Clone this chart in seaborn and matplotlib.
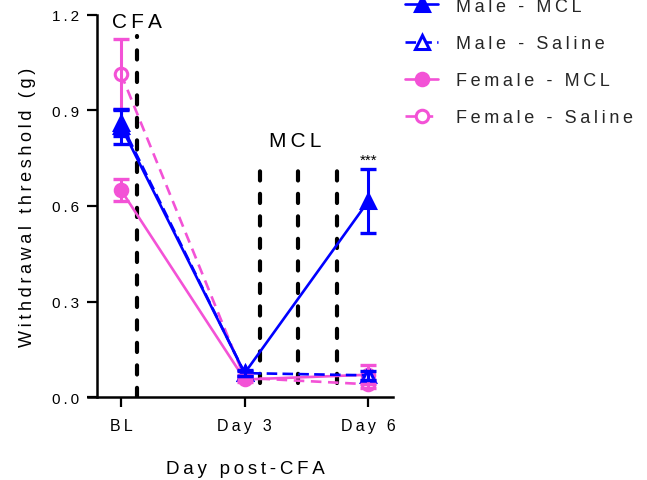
import numpy as np
import pandas as pd
import matplotlib
matplotlib.use("Agg")
import matplotlib.pyplot as plt
import seaborn as sns

# ---- data ----
days = ["BL", "Day 3", "Day 6"]
male_mcl = [0.85, 0.075, 0.615]
male_mcl_sem = [0.055, 0.01, 0.10]
male_sal = [0.86, 0.075, 0.068]
male_sal_sem = [0.04, 0.008, 0.015]
fem_mcl = [0.65, 0.055, 0.07]
fem_mcl_sem = [0.035, 0.008, 0.03]
fem_sal = [1.015, 0.06, 0.04]
fem_sal_sem = [0.11, 0.008, 0.012]
series_labels = ["Male - MCL", "Male - Saline", "Female - MCL", "Female - Saline"]
yticks = [0.0, 0.3, 0.6, 0.9, 1.2]
cfa_x = 0.13
mcl_x = [1.125, 1.433, 1.749]

BLUE = "#0000FF"
PINK = "#F352D6"
TS = "\u2009"


def sp(s):
    return TS.join(list(s))


sns.set_theme(style="ticks")
plt.rcParams["font.family"] = ["Liberation Sans", "DejaVu Sans"]

fig = plt.figure(figsize=(6.47, 4.81), dpi=100)
ax = fig.add_axes([88 / 647, 1 - 398 / 481, (393 - 88) / 647, 382 / 481])

xpos = np.arange(len(days))

# black dashed event lines
ax.vlines(cfa_x, 0, 1.135, colors="black", linewidth=3,
          linestyles=(0, (2.2, 3.2)), zorder=1, capstyle="round")
for xv in mcl_x:
    ax.vlines(xv, 0.045, 0.745, colors="black", linewidth=3,
              linestyles=(0, (2.2, 3.2)), zorder=1, capstyle="round")

specs = [
    (fem_sal, fem_sal_sem, PINK, "o", True, (4, 2.5), series_labels[3]),
    (fem_mcl, fem_mcl_sem, PINK, "o", False, None, series_labels[2]),
    (male_sal, male_sal_sem, BLUE, "^", True, (4, 2), series_labels[1]),
    (male_mcl, male_mcl_sem, BLUE, "^", False, None, series_labels[0]),
]
handles = {}
for vals, sem, col, mk, opn, dash, lab in specs:
    n0 = len(ax.lines)
    sns.lineplot(x=xpos, y=vals, ax=ax, color=col, marker=mk,
                 markersize=10 if mk == "^" else 9,
                 markerfacecolor="white" if opn else col,
                 markeredgecolor=col, markeredgewidth=2.2,
                 linewidth=1.9, label=lab, zorder=3)
    ln = ax.lines[n0]
    if dash is not None:
        ln.set_dashes(dash)
    handles[lab] = ln
    ax.errorbar(xpos, vals, yerr=sem, fmt="none", ecolor=col,
                elinewidth=2.2, capsize=5.5, capthick=2.4, zorder=4)

leg0 = ax.get_legend()
if leg0 is not None:
    leg0.remove()

fig.legend([handles[l] for l in series_labels], [sp(l) for l in series_labels],
           loc="center left", bbox_to_anchor=(405 / 647, 1 - 63 / 481),
           frameon=False, fontsize=13, handlelength=1.85, handletextpad=1.0,
           labelspacing=1.12, borderpad=0, borderaxespad=0)

ax.set_xlim(-0.267, 2.2)
ax.set_ylim(0, 1.2)
ax.set_xticks(xpos)
ax.set_xticklabels([sp(d) for d in days], fontsize=11.5)
ax.set_yticks(yticks)
ax.set_yticklabels([sp(f"{v:.1f}") for v in yticks], fontsize=11.5)
ax.tick_params(axis="both", direction="out", length=7, width=1.6, color="black",
               labelcolor="black", pad=6)
ax.tick_params(axis="x", pad=8)
for s in ["top", "right"]:
    ax.spines[s].set_visible(False)
for s in ["left", "bottom"]:
    ax.spines[s].set_linewidth(1.8)
    ax.spines[s].set_color("black")
ax.spines["left"].set_position(("axes", (97 - 88) / 305))
ax.spines["left"].set_bounds(0, 1.2)

ax.set_ylabel(sp("Withdrawal threshold (g)"), fontsize=13, color="black")
ax.yaxis.set_label_coords(-0.17, 0.5)
ax.set_xlabel(sp("Day post-CFA"), fontsize=13.5, color="black")
ax.xaxis.set_label_coords(0.515, -0.165)

ax.text(cfa_x, 1.18, sp("CFA"), ha="center", va="center", fontsize=15, color="black")
ax.text(1.405, 0.805, sp("MCL"), ha="center", va="center", fontsize=15, color="black")
ax.text(2, 0.745, "***", ha="center", va="center", fontsize=11, color="black")

ax.set_facecolor("white")
fig.patch.set_facecolor("white")
fig.savefig("out.png", dpi=100)
